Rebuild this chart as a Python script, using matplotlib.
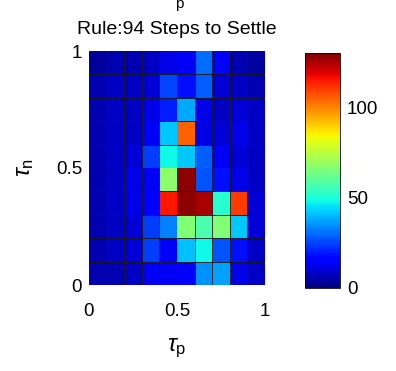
import numpy as np
import matplotlib
matplotlib.use("Agg")
import matplotlib.pyplot as plt

plt.rcParams['font.family'] = ['Liberation Sans', 'DejaVu Sans']
plt.rcParams['mathtext.fontset'] = 'custom'
plt.rcParams['mathtext.rm'] = 'Liberation Sans'
plt.rcParams['mathtext.it'] = 'Liberation Sans:italic'

title = "Rule:94 Steps to Settle"
x_ticks = [0, 0.5, 1]
x_ticklabels = ["0", "0.5", "1"]
y_ticks = [0, 0.5, 1]
y_ticklabels = ["0", "0.5", "1"]
cbar_ticks = [0, 50, 100]
vmax = 130

# rows listed top (tau_n near 1) to bottom (tau_n near 0); columns tau_p 0 -> 1
steps_rows_top_to_bottom = [
    [4, 6, 6, 8, 12, 14, 30, 14, 6, 4],
    [6, 8, 8, 10, 25, 18, 28, 10, 8, 6],
    [6, 8, 8, 12, 20, 38, 12, 8, 10, 8],
    [6, 8, 8, 14, 42, 105, 12, 10, 12, 8],
    [6, 8, 10, 24, 48, 42, 28, 14, 10, 8],
    [6, 8, 12, 14, 68, 128, 27, 18, 12, 8],
    [6, 8, 12, 16, 115, 128, 125, 52, 110, 10],
    [6, 8, 10, 24, 33, 66, 57, 66, 42, 10],
    [6, 8, 10, 24, 14, 41, 48, 27, 18, 8],
    [6, 6, 8, 14, 14, 16, 35, 37, 12, 8],
]

Z = np.array(steps_rows_top_to_bottom)[::-1]
n_rows, n_cols = Z.shape
xe = np.linspace(0, 1, n_cols + 1)
ye = np.linspace(0, 1, n_rows + 1)

W, H = 396, 371
fig = plt.figure(figsize=(W / 100, H / 100), dpi=100)
ax = fig.add_axes([89 / W, (H - 285) / H, 176 / W, 234 / H])
mesh = ax.pcolormesh(xe, ye, Z, cmap='jet', vmin=0, vmax=vmax, linewidth=0)
ax.set_xlim(0, 1)
ax.set_ylim(0, 1)
ax.set_xticks(x_ticks)
ax.set_xticklabels(x_ticklabels)
ax.set_yticks(y_ticks)
ax.set_yticklabels(y_ticklabels)
# cell borders drawn as minor grid lines at the cell edges
ax.set_xticks(xe, minor=True)
ax.set_yticks(ye, minor=True)
ax.grid(which='minor', color='#1a1a1a', linewidth=0.72, alpha=0.9)
ax.grid(which='major', visible=False)
ax.set_axisbelow(False)
ax.tick_params(which='minor', length=0)
ax.tick_params(axis='x', length=0, labelsize=13.5, pad=13)
ax.tick_params(axis='y', length=0, labelsize=13.5, pad=5)
for s in ax.spines.values():
    s.set_visible(False)
ax.set_title(title, fontsize=14, pad=12)
ax.set_xlabel(r"$\tau_\mathrm{p}$", fontsize=17, labelpad=12)
ax.set_ylabel(r"$\tau_\mathrm{n}$", fontsize=17, labelpad=14)

cax = fig.add_axes([305 / W, (H - 288) / H, 35 / W, 235 / H])
cb = fig.colorbar(mesh, cax=cax, ticks=cbar_ticks)
cb.ax.tick_params(length=0, labelsize=13.5, pad=5)
cb.outline.set_linewidth(0.6)

fig.text(0.452, 0.978, "p", fontsize=11, ha='center', va='baseline')

fig.savefig("out.png", dpi=100)
